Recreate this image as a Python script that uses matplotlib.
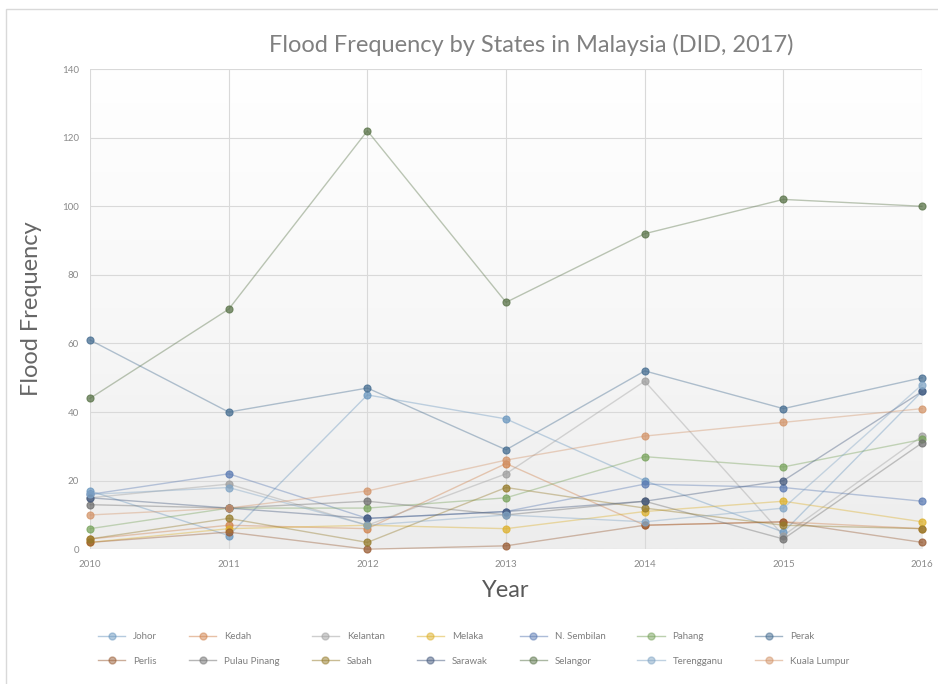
import numpy as np
import matplotlib
matplotlib.use("Agg")
import matplotlib.pyplot as plt
from matplotlib.patches import Rectangle
from matplotlib.colors import to_rgb, LinearSegmentedColormap

plt.rcParams['font.family'] = ['Lato', 'DejaVu Sans']

years = [2010, 2011, 2012, 2013, 2014, 2015, 2016]

# flood events per state
johor = [17, 4, 45, 38, 20, 5, 46]
kedah = [3, 7, 6, 25, 7, 8, 6]
kelantan = [15, 19, 7, 22, 49, 4, 33]
melaka = [2, 6, 7, 6, 11, 14, 8]
n_sembilan = [16, 22, 9, 11, 19, 18, 14]
pahang = [6, 12, 12, 15, 27, 24, 32]
perak = [61, 40, 47, 29, 52, 41, 50]
perlis = [2, 5, 0, 1, 7, 8, 2]
pulau_pinang = [13, 12, 14, 10, 14, 3, 31]
sabah = [3, 9, 2, 18, 12, 7, 6]
sarawak = [15, 12, 9, 11, 14, 20, 46]
selangor = [44, 70, 122, 72, 92, 102, 100]
terengganu = [16, 18, 7, 10, 8, 12, 48]
kuala_lumpur = [10, 12, 17, 26, 33, 37, 41]

states = ['Johor', 'Kedah', 'Kelantan', 'Melaka', 'N. Sembilan', 'Pahang', 'Perak',
          'Perlis', 'Pulau Pinang', 'Sabah', 'Sarawak', 'Selangor', 'Terengganu', 'Kuala Lumpur']
values = [johor, kedah, kelantan, melaka, n_sembilan, pahang, perak,
          perlis, pulau_pinang, sabah, sarawak, selangor, terengganu, kuala_lumpur]
colors = ['#5B9BD5', '#ED7D31', '#A5A5A5', '#FFC000', '#4472C4', '#70AD47', '#255E91',
          '#9E480E', '#636363', '#997300', '#264478', '#43682B', '#7CAFDD', '#F1975A']


def muted(c, k=0.3):
    # the scanned chart looks washed out, pull colours toward grey
    r = np.array(to_rgb(c))
    return tuple(r * (1 - k) + np.array([0.55, 0.55, 0.55]) * k)


fig = plt.figure(figsize=(9.38, 6.84), dpi=100)
ax = fig.add_axes([0.096, 0.197, 0.887, 0.702])

grad = np.linspace(0, 1, 256).reshape(-1, 1)
ax.imshow(grad, extent=[0, 1, 0, 1], transform=ax.transAxes, aspect='auto',
          cmap=LinearSegmentedColormap.from_list('g', ['#ededed', '#f8f8f8', '#ffffff']),
          origin='lower', zorder=0)

handles = []
for name, vals, c in zip(states, values, colors):
    mc = muted(c)
    ax.plot(years, vals, color=mc, lw=1.0, alpha=0.4, zorder=2, clip_on=False)
    ax.scatter(years, vals, color=mc, s=26, alpha=0.75, zorder=3, clip_on=False,
               edgecolors=mc, linewidths=0.8)
    h, = ax.plot([], [], color=mc, lw=1.0, alpha=0.5, marker='o', markersize=5,
                 markerfacecolor=mc, markeredgecolor=mc)
    handles.append(h)

ax.set_xlim(2010, 2016)
ax.set_ylim(0, 140)
ax.set_xticks(years)
ax.set_yticks(range(0, 141, 20))
ax.grid(True, color='#d9d9d9', lw=0.8, zorder=1)
ax.set_axisbelow(True)
for s in ax.spines.values():
    s.set_visible(False)
ax.tick_params(length=0, labelsize=7, labelcolor='#8a8a8a', pad=8)

ax.set_xlabel('Year', fontsize=17, color='#595959', labelpad=8)
ax.set_ylabel('Flood Frequency', fontsize=17, color='#666666', labelpad=14)
fig.text(0.566, 0.935, 'Flood Frequency by States in Malaysia (DID, 2017)',
         ha='center', va='center', fontsize=17, color='#808080')

# legend fills column by column, so interleave the two rows
order = []
for i in range(7):
    order += [i, i + 7]
leg = fig.legend([handles[i] for i in order], [states[i] for i in order],
                 loc='center', bbox_to_anchor=(0.505, 0.051), ncol=7, frameon=False,
                 fontsize=7, handlelength=2.8, columnspacing=3.3, labelspacing=1.6)
for t in leg.get_texts():
    t.set_color('#7f7f7f')

# outer chart border
fig.patches.append(Rectangle((0.006, -0.01), 1.0, 0.997, transform=fig.transFigure,
                             fill=False, edgecolor='#d9d9d9', lw=1.0))

fig.savefig('out.png', dpi=100)
